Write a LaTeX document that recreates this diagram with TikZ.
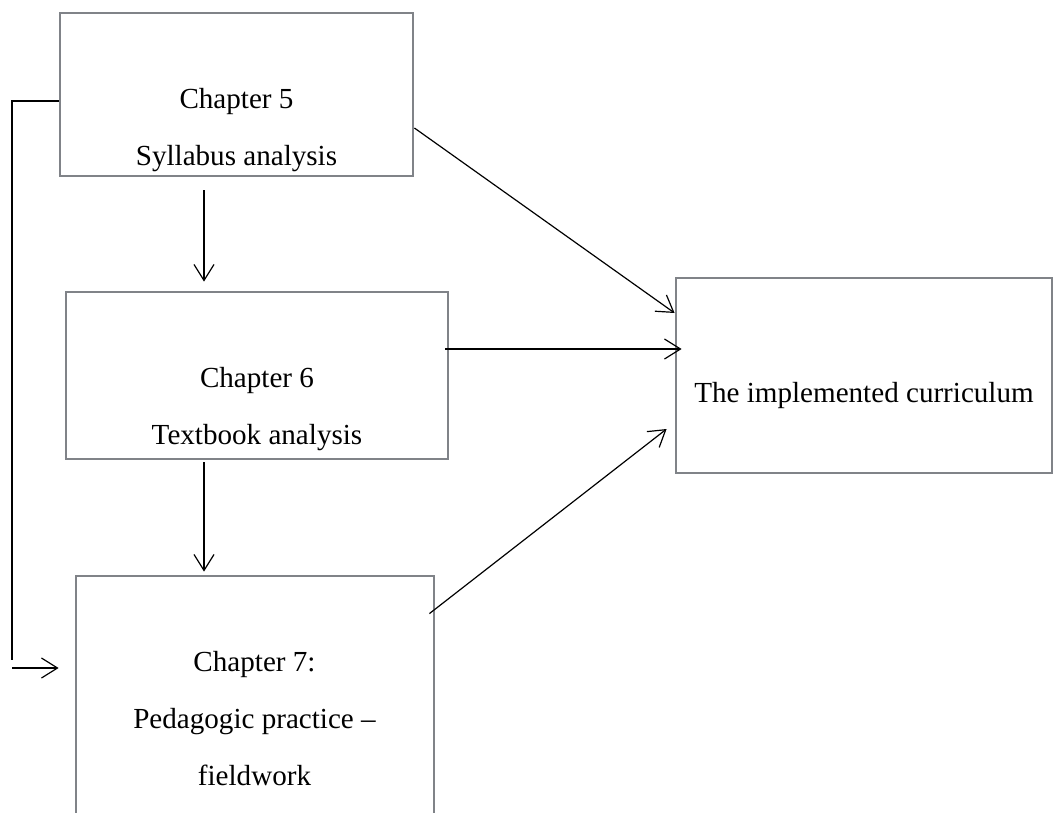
\documentclass[tikz,border=0pt]{standalone}
\usepackage{fontspec}
\setmainfont{Liberation Serif}
\usetikzlibrary{arrows.meta}
\definecolor{boxgray}{RGB}{128,131,136}

\begin{document}
\begin{tikzpicture}[>={Straight Barb[length=0.4cm,width=0.5cm]},
  chapbox/.style={draw=boxgray, line width=2pt, rectangle},
  chaptext/.style={align=center, font=\fontsize{20.7pt}{40.5pt}\selectfont},
  arr/.style={->, line width=0.85pt}]
\path[use as bounding box, clip] (0,0) rectangle (26.35,-20.325);

\node[chapbox, minimum width=8.825cm, minimum height=4.075cm] (b1) at (5.9125,-2.3625) {};
\node[chapbox, minimum width=9.55cm, minimum height=4.175cm] (b2) at (6.425,-9.3875) {};
\node[chapbox, minimum width=8.95cm, minimum height=6.6cm] (b3) at (6.375,-17.7) {};
\node[chapbox, minimum width=9.4cm, minimum height=4.875cm] (b4) at (21.6,-9.3875) {};

\node[chaptext] (t1) at (5.9125,-3.245) {Chapter 5\\Syllabus analysis};
\node[chaptext] (t2) at (6.425,-10.23) {Chapter 6\\Textbook analysis};
\node[chaptext] (t3) at (6.3625,-17.96) {Chapter 7:\\Pedagogic practice –\\fieldwork};
\node[chaptext, anchor=base] (t4) at (21.6,-10.05) {The implemented curriculum};

\draw[arr, shorten <=0.325cm, shorten >=0.225cm] ([xshift=-0.8125cm]b1.south) -- ([xshift=-1.325cm]b2.north);
\draw[arr, shorten <=0.05cm, shorten >=0.075cm] ([xshift=-1.325cm]b2.south) -- ([xshift=-1.275cm]b3.north);
\draw[arr] ([yshift=-0.8375cm]b1.east) -- ([yshift=1.5625cm]b4.west);
\draw[arr, shorten <=-0.1cm, shorten >=-0.175cm] ([yshift=0.6625cm]b2.east) -- ([yshift=0.6625cm]b4.west);
\draw[arr] ([xshift=-0.15cm,yshift=-0.975cm]b3.north east) -- ([xshift=-0.2cm,yshift=-1.3375cm]b4.west);

\coordinate (turn) at (0.3,-16.5);
\coordinate (back) at (0.3,-16.7);
\draw[line width=0.85pt] ([yshift=-0.1625cm]b1.west) -| (turn);
\draw[arr, shorten >=0.4cm] (back) -- ([yshift=1cm]b3.west);
\end{tikzpicture}
\end{document}
